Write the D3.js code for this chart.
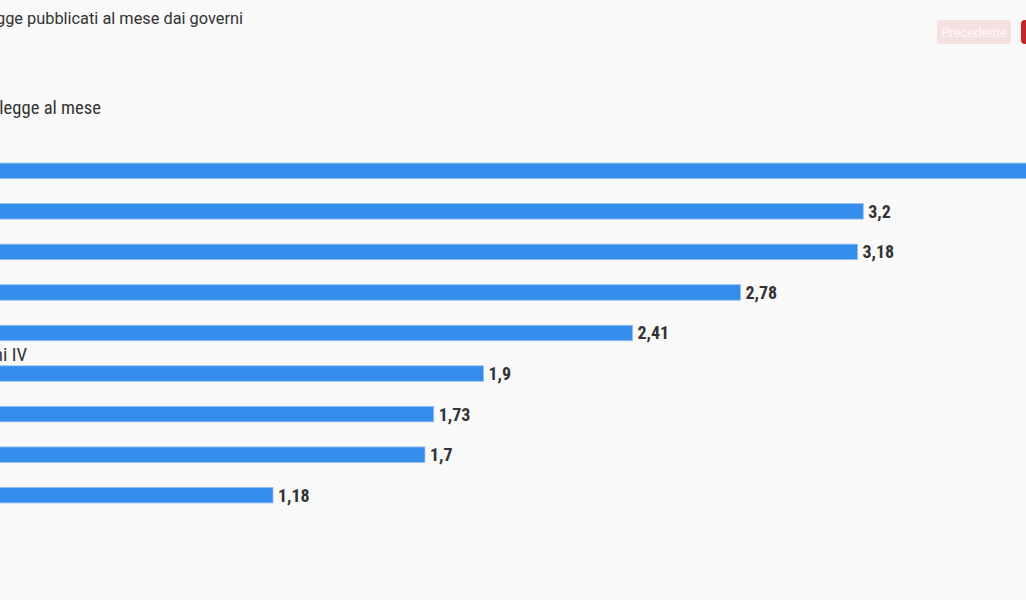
<!DOCTYPE html>
<html>
<head>
<meta charset="utf-8">
<script src="https://cdn.jsdelivr.net/npm/d3@7"></script>
<style>
  html, body { margin: 0; padding: 0; background: #f9f9f9; overflow: hidden; }
  svg { display: block; }
</style>
</head>
<body>
<svg id="chart" width="1026" height="600"></svg>
<script>
const governi = ["Meloni", "Conte II", "Draghi", "Monti", "Letta", "Berlusconi IV", "Renzi", "Gentiloni", "Conte I"];
const decretiAlMese = [3.9, 3.2, 3.18, 2.78, 2.41, 1.9, 1.73, 1.7, 1.18];
const titolo = "Decreti legge pubblicati al mese dai governi";
const assetitolo = "Decreti legge al mese";
const pulsanti = ["Precedente", "Successivo"];

const W = 1026, H = 600;
const svg = d3.select("#chart");
svg.append("rect").attr("width", W).attr("height", H).attr("fill", "#f9f9f9");

const condensed = "'Roboto Condensed', 'Liberation Sans Narrow', 'Arial Narrow', 'DejaVu Sans Condensed', sans-serif";

// title (page is scrolled: left part is off-canvas)
svg.append("text")
  .attr("x", 243).attr("y", 24)
  .attr("text-anchor", "end")
  .attr("font-family", "Roboto, 'Liberation Sans', sans-serif")
  .attr("font-size", 16.35)
  .attr("fill", "#333")
  .text(titolo);

// buttons
const btn = svg.append("g");
btn.append("rect").attr("x", 937).attr("y", 20).attr("width", 74).attr("height", 24).attr("rx", 4).attr("fill", "#f5e1e1");
btn.append("text").attr("x", 974).attr("y", 36.5).attr("text-anchor", "middle")
  .attr("font-family", "Roboto, 'Liberation Sans', sans-serif").attr("font-size", 13).attr("fill", "#fdf6f6").text(pulsanti[0]);
btn.append("rect").attr("x", 1021).attr("y", 20).attr("width", 80).attr("height", 24).attr("rx", 4).attr("fill", "#c8242c");
btn.append("text").attr("x", 1061).attr("y", 36.5).attr("text-anchor", "middle")
  .attr("font-family", "Roboto, 'Liberation Sans', sans-serif").attr("font-size", 13).attr("fill", "#fff").text(pulsanti[1]);

// scales
const x0 = -71.8;
const x = d3.scaleLinear().domain([0, 1]).range([x0, x0 + 292.2]);
const y = d3.scaleBand().domain(governi).range([150.5, 515.5]).paddingInner(0.62).paddingOuter(0.31);

// axis title
svg.append("text")
  .attr("x", 101).attr("y", 114)
  .attr("text-anchor", "end")
  .attr("font-family", condensed)
  .attr("font-size", 18.6)
  .attr("fill", "#333")
  .text(assetitolo);

const rows = svg.append("g").selectAll("g").data(governi).join("g");

rows.append("rect")
  .attr("x", x(0))
  .attr("y", d => y(d))
  .attr("width", (d, i) => x(decretiAlMese[i]) - x(0))
  .attr("height", y.bandwidth())
  .attr("fill", "#348ceb")
  .attr("stroke", "#8fbdf3")
  .attr("stroke-width", 0.8);

rows.append("text")
  .attr("x", x(0))
  .attr("y", d => y(d) - 5)
  .attr("font-family", condensed)
  .attr("font-size", 19)
  .attr("fill", "#333")
  .text(d => d);

rows.append("text")
  .attr("x", (d, i) => x(decretiAlMese[i]) + 5)
  .attr("y", d => y(d) + y.bandwidth() / 2)
  .attr("dy", "0.36em")
  .attr("font-family", condensed)
  .attr("font-weight", "bold")
  .attr("font-size", 18)
  .attr("fill", "#333")
  .text((d, i) => String(decretiAlMese[i]).replace(".", ","));
</script>
</body>
</html>
